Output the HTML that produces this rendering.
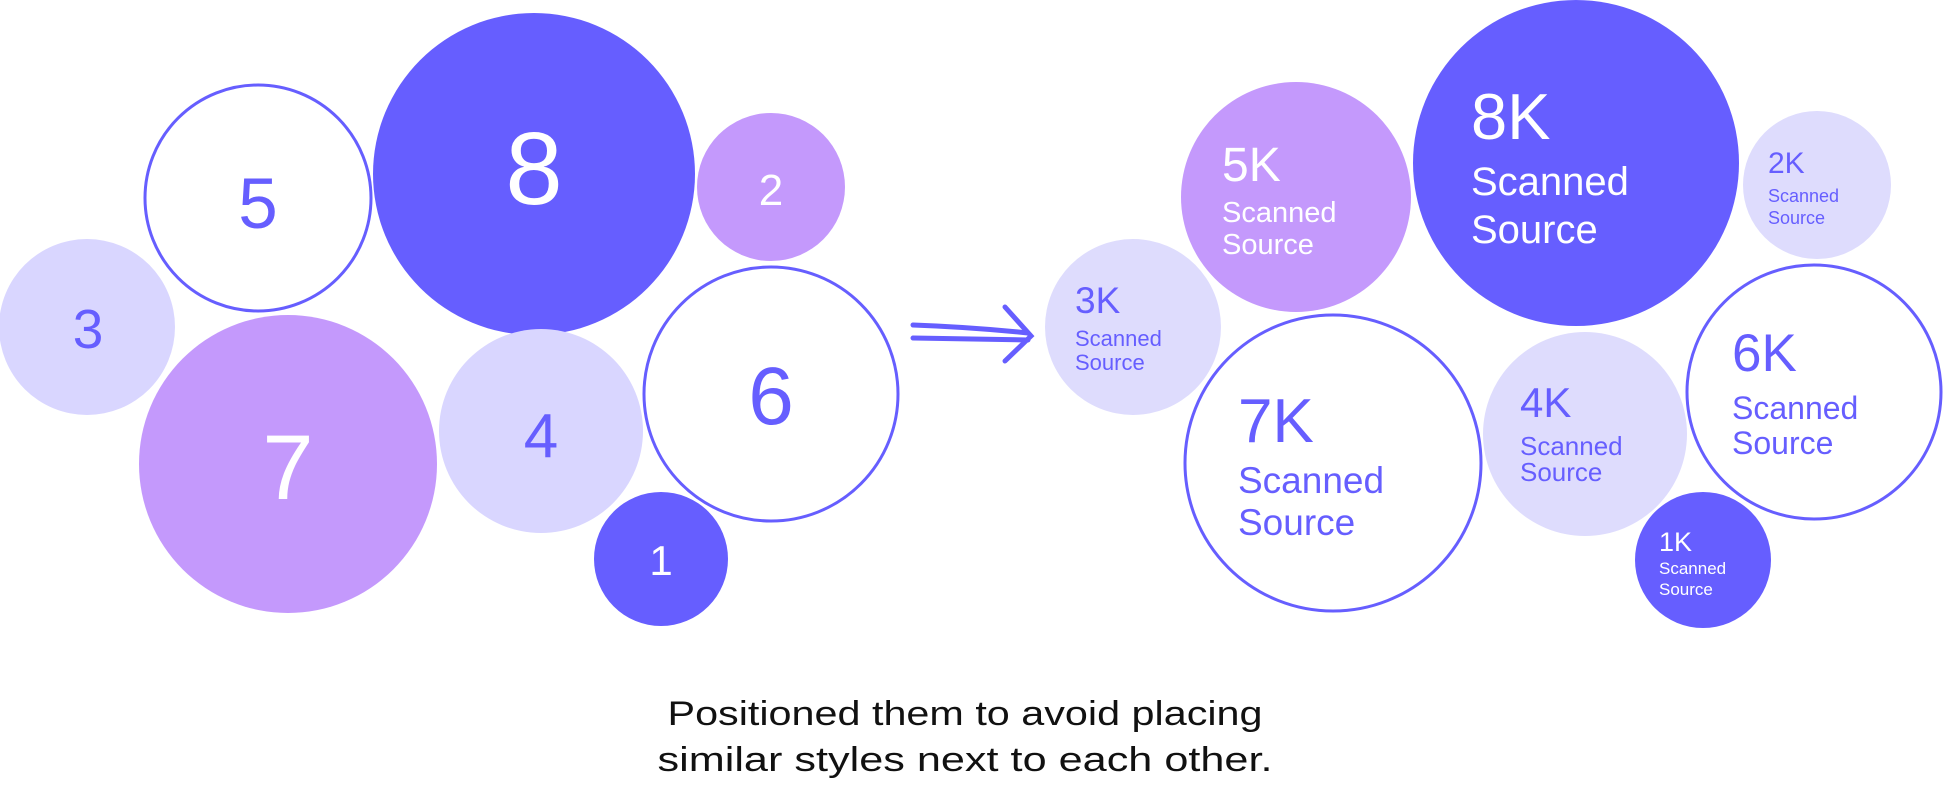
<!DOCTYPE html>
<html><head><meta charset="utf-8"><style>
html,body{margin:0;padding:0;background:#fff;}
svg{display:block;}
text{font-family:"Liberation Sans",Arial,sans-serif;}
.c{text-anchor:middle;}
</style></head><body>
<svg width="1944" height="792" viewBox="0 0 1944 792" xmlns="http://www.w3.org/2000/svg">
<!-- left -->
<circle cx="534" cy="174" r="161" fill="#665eff"/>
<circle cx="258" cy="198" r="113" fill="#fff" stroke="#665eff" stroke-width="3"/>
<circle cx="771" cy="187" r="74" fill="#c499fc"/>
<circle cx="87" cy="327" r="88" fill="#d9d6ff"/>
<circle cx="288" cy="464" r="149" fill="#c499fc"/>
<circle cx="541" cy="431" r="102" fill="#d9d6ff"/>
<circle cx="771" cy="394" r="127" fill="#fff" stroke="#665eff" stroke-width="3"/>
<circle cx="661" cy="559" r="67" fill="#665eff"/>
<text class="c" x="534" y="204" font-size="103" fill="#fff">8</text>
<text class="c" x="258" y="228" font-size="71" fill="#665eff">5</text>
<text class="c" x="771" y="205" font-size="44" fill="#fff">2</text>
<text class="c" x="88" y="348" font-size="55" fill="#665eff">3</text>
<text class="c" x="288" y="499" font-size="92" fill="#fff">7</text>
<text class="c" x="541" y="457" font-size="62" fill="#665eff">4</text>
<text class="c" x="771" y="424" font-size="82" fill="#665eff">6</text>
<text class="c" x="661" y="575" font-size="42" fill="#fff">1</text>
<!-- arrow -->
<g stroke="#665eff" stroke-width="5" stroke-linecap="round" fill="none">
<path d="M913 325 Q970 327 1028 333"/>
<path d="M913 338 Q970 339 1028 340"/>
<path d="M1005 307 L1031 336 L1005 361"/>
</g>
<!-- right -->
<circle cx="1576" cy="163" r="163" fill="#665eff"/>
<circle cx="1296" cy="197" r="115" fill="#c499fc"/>
<circle cx="1817" cy="185" r="74" fill="#dedcfd"/>
<circle cx="1133" cy="327" r="88" fill="#dedcfd"/>
<circle cx="1333" cy="463" r="148" fill="#fff" stroke="#665eff" stroke-width="3"/>
<circle cx="1585" cy="434" r="102" fill="#dedcfd"/>
<circle cx="1814" cy="392" r="127" fill="#fff" stroke="#665eff" stroke-width="3"/>
<circle cx="1703" cy="560" r="68" fill="#665eff"/>
<g fill="#fff">
<text x="1471" y="139" font-size="65">8K</text>
<text x="1471" y="195" font-size="40">Scanned</text>
<text x="1471" y="243" font-size="40">Source</text>
<text x="1222" y="181" font-size="48">5K</text>
<text x="1222" y="222" font-size="29">Scanned</text>
<text x="1222" y="254" font-size="29">Source</text>
<text x="1659" y="551" font-size="27">1K</text>
<text x="1659" y="574" font-size="17">Scanned</text>
<text x="1659" y="595" font-size="17">Source</text>
</g>
<g fill="#665eff">
<text x="1768" y="173" font-size="30">2K</text>
<text x="1768" y="202" font-size="18">Scanned</text>
<text x="1768" y="224" font-size="18">Source</text>
<text x="1075" y="313" font-size="37">3K</text>
<text x="1075" y="346" font-size="22">Scanned</text>
<text x="1075" y="370" font-size="22">Source</text>
<text x="1238" y="442" font-size="62">7K</text>
<text x="1238" y="493" font-size="37">Scanned</text>
<text x="1238" y="535" font-size="37">Source</text>
<text x="1520" y="417" font-size="42">4K</text>
<text x="1520" y="455" font-size="26">Scanned</text>
<text x="1520" y="481" font-size="26">Source</text>
<text x="1732" y="371" font-size="53">6K</text>
<text x="1732" y="419" font-size="32">Scanned</text>
<text x="1732" y="454" font-size="32">Source</text>
</g>
<!-- caption -->
<g fill="#111" font-size="34">
<text class="c" x="965" y="725" textLength="595" lengthAdjust="spacingAndGlyphs" style="font-family:'Liberation Sans',sans-serif">Positioned them to avoid placing</text>
<text class="c" x="965" y="771" textLength="615" lengthAdjust="spacingAndGlyphs" style="font-family:'Liberation Sans',sans-serif">similar styles next to each other.</text>
</g>
</svg>
</body></html>
